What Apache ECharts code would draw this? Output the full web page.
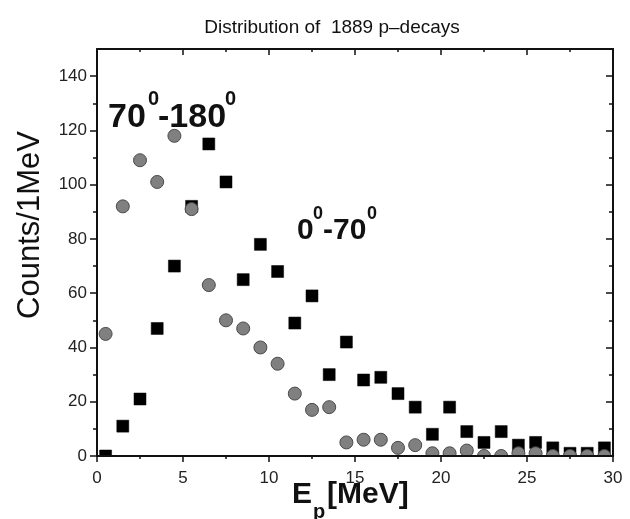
<!DOCTYPE html>
<html>
<head>
<meta charset="utf-8">
<script src="https://cdn.jsdelivr.net/npm/echarts@6/dist/echarts.min.js"></script>
<style>html,body{margin:0;padding:0;background:#fff}#c{width:630px;height:519px}</style>
</head>
<body>
<div id="c"></div>
<script>
// ---- data ----
const energy = [0.5,1.5,2.5,3.5,4.5,5.5,6.5,7.5,8.5,9.5,10.5,11.5,12.5,13.5,14.5,15.5,16.5,17.5,18.5,19.5,20.5,21.5,22.5,23.5,24.5,25.5,26.5,27.5,28.5,29.5];
const counts0to70   = [0,11,21,47,70,92,115,101,65,78,68,49,59,30,42,28,29,23,18,8,18,9,5,9,4,5,3,1,1,3];
const counts70to180 = [45,92,109,101,118,91,63,50,47,40,34,23,17,18,5,6,6,3,4,1,1,2,0,0,1,1,0,0,0,0];
const xMajorTicks = [0,5,10,15,20,25,30];
const xMinorTicks = [2.5,7.5,12.5,17.5,22.5,27.5];
const yMajorTicks = [0,20,40,60,80,100,120,140];
const yMinorTicks = [10,30,50,70,90,110,130];

const GRID = {left: 97, right: 17, top: 49, bottom: 63};
const FONT = "'Liberation Sans', Arial, sans-serif";
const INK = '#111';

function xAx(pos, ticks, len, inside, labels, line) {
  return {
    type: 'value', min: 0, max: 30, position: pos, z: 4,
    axisLine: {show: line, onZero: false, lineStyle: {color: INK, width: 2}},
    axisTick: {show: true, customValues: ticks, length: len, inside: inside, lineStyle: {color: INK, width: 1.5}},
    axisLabel: {show: labels, customValues: ticks, margin: 14, fontSize: 17, color: '#222', fontFamily: FONT},
    splitLine: {show: false}
  };
}
function yAx(pos, ticks, len, inside, labels, line) {
  return {
    type: 'value', min: 0, max: 150, position: pos, z: 4,
    axisLine: {show: line, onZero: false, lineStyle: {color: INK, width: 2}},
    axisTick: {show: true, customValues: ticks, length: len, inside: inside, lineStyle: {color: INK, width: 1.5}},
    axisLabel: {show: labels, customValues: ticks, margin: 10, fontSize: 17, color: '#222', fontFamily: FONT},
    splitLine: {show: false}
  };
}

const chart = echarts.init(document.getElementById('c'), null, {renderer: 'canvas'});
const W = 630, H = 519;

function txt(x, y, text, font, align, rot) {
  return {
    type: 'text', x: x, y: y, rotation: rot || 0, z: 20,
    style: {text: text, font: font, fill: INK, align: align || 'left', verticalAlign: 'middle',
            textAlign: align || 'left', textVerticalAlign: 'middle'}
  };
}

chart.setOption({
  animation: false,
  backgroundColor: '#fff',
  grid: {left: GRID.left, right: GRID.right, top: GRID.top, bottom: GRID.bottom, containLabel: false},
  xAxis: [
    xAx('bottom', xMajorTicks, 6, false, true, true),
    xAx('bottom', xMinorTicks, 3, false, false, false),
    xAx('top', xMajorTicks, 6, true, false, true),
    xAx('top', xMinorTicks, 3, true, false, false)
  ],
  yAxis: [
    yAx('left', yMajorTicks, 7, false, true, true),
    yAx('left', yMinorTicks, 4, false, false, false),
    yAx('right', yMajorTicks, 7, true, false, true),
    yAx('right', yMinorTicks, 4, true, false, false)
  ],
  series: [
    {
      name: '0-70', type: 'scatter', xAxisIndex: 0, yAxisIndex: 0, z: 2,
      symbol: 'rect', symbolSize: 12,
      itemStyle: {color: '#000', borderColor: '#000', borderWidth: 0.5, opacity: 1},
      data: energy.map((e, i) => [e, counts0to70[i]])
    },
    {
      name: '70-180', type: 'scatter', xAxisIndex: 0, yAxisIndex: 0, z: 2,
      symbol: 'circle', symbolSize: 13,
      itemStyle: {color: '#808080', borderColor: '#4a4a4a', borderWidth: 1, opacity: 1},
      data: energy.map((e, i) => [e, counts70to180[i]])
    }
  ],
  graphic: [
    // mask hiding the parts of the markers that fall below the x axis
    {type: 'rect', z: 3, silent: true,
     shape: {x: GRID.left - 8, y: H - GRID.bottom + 1, width: W - GRID.left - GRID.right + 16, height: 10},
     style: {fill: '#fff'}},
    txt(332, 28, 'Distribution of  1889 p\u2013decays', '19px ' + FONT, 'center'),
    txt(30, 225, 'Counts/1MeV', '31px ' + FONT, 'center', Math.PI / 2),
    txt(292, 495, 'E', 'bold 30px ' + FONT),
    txt(313, 512, 'p', 'bold 20px ' + FONT),
    txt(327, 495, '[MeV]', 'bold 30px ' + FONT),
    txt(108, 117.5, '70', 'bold 34px ' + FONT),
    txt(148, 99, '0', 'bold 20px ' + FONT),
    txt(158, 117.5, '-180', 'bold 34px ' + FONT),
    txt(225, 99, '0', 'bold 20px ' + FONT),
    txt(297, 231, '0', 'bold 30px ' + FONT),
    txt(313, 214, '0', 'bold 18px ' + FONT),
    txt(323, 231, '-70', 'bold 30px ' + FONT),
    txt(367, 214, '0', 'bold 18px ' + FONT)
  ]
});
</script>
</body>
</html>
